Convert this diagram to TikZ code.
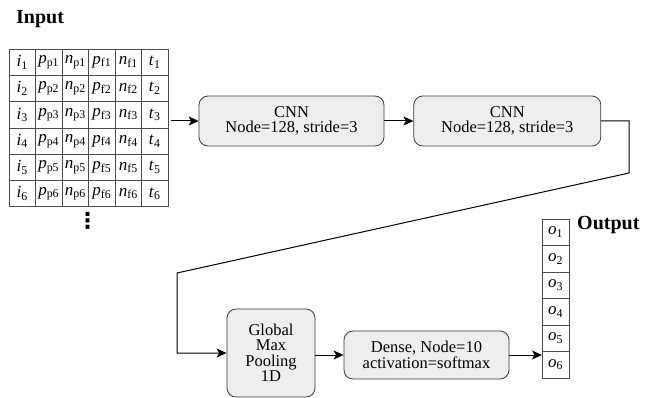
\documentclass[tikz,border=0pt]{standalone}
\usepackage{fontspec}
\setmainfont{Liberation Serif}
\newfontfamily\dotsfont{DejaVu Sans}
\usetikzlibrary{arrows.meta, positioning, fit}
\definecolor{boxgray}{HTML}{EEEEEE}
\definecolor{edgegray}{HTML}{3A3A3A}
\newcommand{\cellv}[2]{\textit{#1}\textsubscript{#2}}

\begin{document}
\begin{tikzpicture}[
      x=1pt, y=-1pt,
      layer/.style={rectangle, draw=edgegray, fill=boxgray, rounded corners=9pt,
                    line width=0.8pt, align=center, inner sep=0pt,
                    font=\fontsize{16.5}{15.5}\selectfont},
      cell/.style={rectangle, draw=black!70, line width=0.7pt, outer sep=0pt,
                   minimum width=26.5pt, minimum height=26.3pt, inner sep=0pt,
                   anchor=north west, font=\fontsize{17}{17}\selectfont},
      ocell/.style={cell, minimum width=27pt, minimum height=26.5pt},
      title/.style={inner sep=0pt, anchor=base west,
                    font=\fontsize{20}{20}\selectfont\bfseries},
      arr/.style={-{Stealth[length=10pt, width=9pt, inset=2.5pt]}, line width=1pt}
    ]
    \useasboundingbox (0,0) rectangle (658,398);

    % Input table
    \node[title] (inlbl) at (16,24) {Input};
    \foreach \r in {1,...,6} {
      \node[cell] (c\r-1) at (9,{22.7+26.3*\r}) {\cellv{i}{\r}};
      \node[cell, right=0pt of c\r-1] (c\r-2) {\cellv{p}{p\r}};
      \node[cell, right=0pt of c\r-2] (c\r-3) {\cellv{n}{p\r}};
      \node[cell, right=0pt of c\r-3] (c\r-4) {\cellv{p}{f\r}};
      \node[cell, right=0pt of c\r-4] (c\r-5) {\cellv{n}{f\r}};
      \node[cell, right=0pt of c\r-5] (c\r-6) {\cellv{t}{\r}};
    }
    \node[fit=(c1-1)(c6-6), inner sep=0pt] (grid) {};
    \node[font=\fontsize{22}{22}\dotsfont\bfseries, inner sep=0pt] (dots) at (87.5,221) {⋮};

    % Layers
    \node[layer, minimum width=185pt, minimum height=50pt] (cnn1) at (291.5,121)
      {CNN\\Node=128, stride=3};
    \node[layer, minimum width=187pt, minimum height=50pt, right=29pt of cnn1] (cnn2)
      {CNN\\Node=128, stride=3};
    \node[layer, minimum width=88pt, minimum height=88pt] (gmp) at (271,353)
      {Global\\Max\\Pooling\\1D};
    \node[layer, minimum width=165pt, minimum height=48pt] (dense) at (426.5,355)
      {Dense, Node=10\\activation=softmax};

    % Output vector
    \foreach \k in {1,...,6}
      \node[ocell] (o\k) at (542,{192.5+26.5*\k}) {\cellv{o}{\k}};
    \node[title] (outlbl) at (577,229) {Output};

    \coordinate (bendA) at (629,173);
    \coordinate (bendB) at (177,273);

    \draw[arr, shorten <=3pt] (cnn1.west -| grid.east) -- (cnn1.west);
    \draw[arr] (cnn1) -- (cnn2);
    \draw[arr] (cnn2.east) -| (bendA) -- (bendB) |- (gmp.west);
    \draw[arr] (dense.west -| gmp.east) -- (dense.west);
    \draw[arr] (dense.east) -- (dense.east -| o6.west);
  \end{tikzpicture}
\end{document}
